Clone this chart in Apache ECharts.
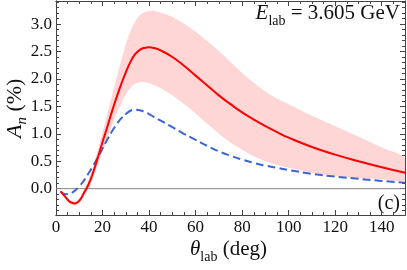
<!DOCTYPE html>
<html><head><meta charset="utf-8">
<script src="https://cdn.jsdelivr.net/npm/echarts@6/dist/echarts.min.js"></script>
<style>html,body{margin:0;padding:0;background:#fff}#c{width:407px;height:270px}</style>
</head><body><div id="c"></div>
<script>
// angles (deg) and values (%)
const theta = [2,4,6,8,10,12,14,16,18,20,22,24,26,28,30,32,34,36,38,40,42,45,50,55,60,65,70,75,80,85,90,95,100,110,120,130,140,150];
const redCurve = [-0.05,-0.15,-0.24,-0.27,-0.22,-0.08,0.08,0.30,0.57,0.85,1.12,1.40,1.66,1.90,2.12,2.31,2.45,2.53,2.565,2.575,2.565,2.52,2.40,2.24,2.06,1.88,1.70,1.54,1.39,1.26,1.14,1.03,0.93,0.76,0.62,0.50,0.39,0.29];
const blueCurve = [-0.05,-0.10,-0.09,-0.04,0.04,0.15,0.28,0.42,0.57,0.73,0.89,1.04,1.17,1.28,1.36,1.42,1.44,1.43,1.40,1.36,1.31,1.24,1.12,1.00,0.89,0.78,0.68,0.60,0.53,0.47,0.42,0.38,0.34,0.27,0.22,0.18,0.14,0.11];
const bandLow = [-0.06,-0.17,-0.27,-0.30,-0.25,-0.12,0.02,0.22,0.46,0.70,0.93,1.16,1.38,1.57,1.73,1.85,1.92,1.95,1.95,1.93,1.90,1.84,1.71,1.55,1.38,1.19,1.01,0.85,0.72,0.60,0.51,0.44,0.39,0.30,0.24,0.20,0.18,0.16];
const bandHigh = [-0.04,-0.13,-0.21,-0.24,-0.19,-0.04,0.14,0.38,0.68,1.00,1.32,1.65,1.98,2.30,2.60,2.85,3.03,3.15,3.21,3.23,3.23,3.20,3.12,3.00,2.85,2.68,2.50,2.30,2.10,1.92,1.76,1.63,1.53,1.32,1.13,0.94,0.74,0.55];
const xMajor = [0,20,40,60,80,100,120,140];
const xMinor = [5,10,15,25,30,35,45,50,55,65,70,75,85,90,95,105,110,115,125,130,135,145,150];
const yMajor = [0,0.5,1.0,1.5,2.0,2.5,3.0];
const yMinor = [-0.4,-0.3,-0.2,-0.1,0.1,0.2,0.3,0.4,0.6,0.7,0.8,0.9,1.1,1.2,1.3,1.4,1.6,1.7,1.8,1.9,2.1,2.2,2.3,2.4,2.6,2.7,2.8,2.9,3.1,3.2,3.3,3.4];

const F = 'Liberation Serif';
const axCol = '#444';
const tickRich = {t:{fontFamily:F, fontSize:17, color:'#111'}};
function xAx(pos, vals, len, labels){
  return {type:'value', min:0, max:150, position:pos,
    axisLine:{show:true, onZero:false, lineStyle:{color:axCol, width:1}},
    axisTick:{show:true, inside:true, length:len, customValues:vals, lineStyle:{color:axCol}},
    axisLabel:labels?{show:true, customValues:xMajor, fontFamily:F, fontSize:17, color:'#111', margin:4,
      formatter:v=>'{t|'+v+'}', rich:tickRich}:{show:false},
    splitLine:{show:false}};
}
function yAx(pos, vals, len, labels){
  return {type:'value', min:-0.48, max:3.42, position:pos,
    axisLine:{show:true, onZero:false, lineStyle:{color:axCol, width:1}},
    axisTick:{show:true, inside:true, length:len, customValues:vals, lineStyle:{color:axCol}},
    axisLabel:labels?{show:true, customValues:yMajor, fontFamily:F, fontSize:17, color:'#111', margin:4,
      formatter:v=>'{t|'+v.toFixed(1)+'}', rich:tickRich}:{show:false},
    splitLine:{show:false}};
}
const pair = (a,b)=>a.map((x,i)=>[x,b[i]]);

const chart = echarts.init(document.getElementById('c'), null, {renderer:'canvas'});
chart.setOption({
  animation:false,
  textStyle:{fontFamily:F},
  grid:{left:56, top:1, width:349, height:214, containLabel:false},
  xAxis:[xAx('bottom',xMajor,5,true), xAx('bottom',xMinor,3,false), xAx('top',xMajor,5,false), xAx('top',xMinor,3,false)],
  yAxis:[yAx('left',yMajor,5,true), yAx('left',yMinor,3,false), yAx('right',yMajor,5,false), yAx('right',yMinor,3,false)],
  series:[
    {type:'custom', coordinateSystem:'cartesian2d', data:[[0]], silent:true, clip:true,
      renderItem:(params, api)=>{
        const pts = [];
        for (let i=0;i<theta.length;i++) pts.push(api.coord([theta[i], bandHigh[i]]));
        for (let i=theta.length-1;i>=0;i--) pts.push(api.coord([theta[i], bandLow[i]]));
        return {type:'polygon', shape:{points:pts, smooth:0.25},
          style:{fill:'rgb(255,214,214)', stroke:'rgb(255,200,200)', lineWidth:0.6}};
      }},
    {type:'line', data:[[0,0],[150,0]], symbol:'none', lineStyle:{color:'#888', width:1}, silent:true},
    {type:'line', data:pair(theta,blueCurve), symbol:'none', smooth:true,
      lineStyle:{color:'#3a66d4', width:2, type:[8,4]}},
    {type:'line', data:pair(theta,redCurve), symbol:'none', smooth:true,
      lineStyle:{color:'#ff0000', width:2}}
  ],
  graphic:[
    {type:'text', right:7, top:3, style:{
      text:'{i|E}{s|lab}{n| = 3.605 GeV}',
      rich:{i:{fontFamily:F, fontSize:21, fontStyle:'italic', lineHeight:24, verticalAlign:'bottom', fill:'#111'},
            s:{fontFamily:F, fontSize:14, lineHeight:14, verticalAlign:'bottom', fill:'#111', padding:[0,0,-4,0]},
            n:{fontFamily:F, fontSize:21, lineHeight:24, verticalAlign:'bottom', fill:'#111'}}}},
    {type:'text', right:7, top:194, style:{text:'(c)', fontFamily:F, fontSize:20, fill:'#111'}},
    {type:'text', left:190, top:239, style:{
      text:'{i|θ}{s|lab}{n| (deg)}',
      rich:{i:{fontFamily:F, fontSize:21, fontStyle:'italic', lineHeight:23, verticalAlign:'bottom', fill:'#111'},
            s:{fontFamily:F, fontSize:14, lineHeight:14, verticalAlign:'bottom', fill:'#111', padding:[0,0,-4,0]},
            n:{fontFamily:F, fontSize:21, lineHeight:23, verticalAlign:'bottom', fill:'#111'}}}},
    {type:'text', x:3, y:138, rotation:Math.PI/2, style:{
      text:'{i|A}{s|n}{n| (%)}',
      rich:{i:{fontFamily:F, fontSize:22, fontStyle:'italic', lineHeight:23, verticalAlign:'bottom', fill:'#111'},
            s:{fontFamily:F, fontSize:15, fontStyle:'italic', lineHeight:15, verticalAlign:'bottom', fill:'#111', padding:[0,0,-4,0]},
            n:{fontFamily:F, fontSize:22, lineHeight:23, verticalAlign:'bottom', fill:'#111'}}}}
  ]
});
</script></body></html>
